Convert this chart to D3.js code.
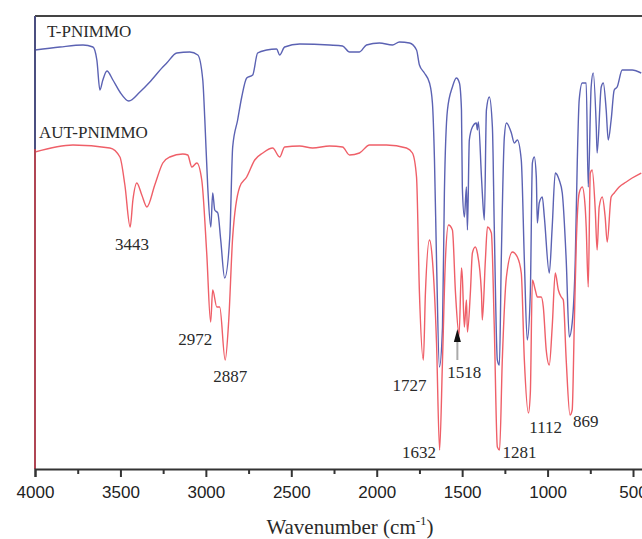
<!DOCTYPE html>
<html lang="en">
<head>
<meta charset="UTF-8">
<title>FTIR spectra</title>
<style>
  * { margin: 0; padding: 0; }
  body { background: #fff; width: 642px; height: 539px; overflow: hidden; }
  svg { display: block; }
  .tick text { font-family: 'Liberation Sans', Arial, sans-serif; font-size: 17px; fill: #222; }
  .serif { font-family: 'Liberation Serif', 'Times New Roman', serif; fill: #2a2a2a; }
</style>
</head>
<body>
<svg width="642" height="539"></svg>
<script src="https://d3js.org/d3.v7.min.js"></script>
<script>
// Wavenumber (cm-1) and relative transmittance
const tWave = [4000, 3854, 3719, 3661, 3638, 3620, 3603, 3579, 3544, 3503, 3451, 3386, 3328, 3252, 3229, 3170, 3094, 3047,
  3018, 3006, 2989, 2971, 2960, 2948, 2930, 2913, 2890, 2860, 2843, 2814, 2790, 2761, 2726, 2697, 2644, 2586, 2568, 2539,
  2451, 2276, 2200, 2159, 2101, 2060, 1984, 1908, 1867, 1808, 1767, 1750, 1721, 1691, 1674, 1662, 1650, 1633, 1615, 1604,
  1586, 1557, 1534, 1516, 1504, 1499, 1487, 1475, 1469, 1458, 1440, 1417, 1411, 1405, 1387, 1382, 1370, 1358, 1341, 1323,
  1312, 1294, 1282, 1271, 1253, 1241, 1212, 1195, 1177, 1154, 1136, 1119, 1101, 1089, 1078, 1066, 1060, 1049, 1031, 1019,
  990, 973, 955, 932, 914, 891, 873, 856, 838, 826, 815, 797, 774, 762, 745, 733, 715, 710, 686, 674, 657, 645, 628, 610,
  593, 563, 505, 452];
const tValue = [419, 422, 424, 422, 409, 379, 389, 398, 389, 377, 368, 377, 387, 402, 406, 416, 417, 414,
  389, 349, 282, 242, 276, 259, 256, 229, 191, 232, 322, 349, 372, 391, 394, 416, 419, 420, 414, 422,
  425, 424, 423, 417, 417, 424, 426, 424, 427, 426, 419, 404, 396, 386, 366, 309, 209, 102, 142, 276,
  359, 382, 391, 386, 359, 282, 252, 282, 239, 329, 342, 346, 339, 347, 292, 276, 249, 359, 372, 342,
  242, 109, 104, 209, 332, 346, 336, 326, 329, 309, 209, 129, 176, 306, 312, 292, 246, 266, 272, 252,
  196, 242, 296, 289, 276, 209, 132, 146, 209, 309, 369, 386, 386, 282, 382, 396, 342, 316, 382, 386, 359, 329, 349, 379,
  382, 399, 399, 396];

const autWave = [4000, 3778, 3562, 3503, 3474, 3443, 3427, 3404, 3375, 3345, 3299, 3252, 3211, 3135, 3106, 3082, 3053,
  3024, 2995, 2972, 2960, 2936, 2919, 2887, 2866, 2843, 2802, 2761, 2714, 2667, 2609, 2568, 2539, 2451, 2375, 2276, 2200,
  2159, 2101, 2042, 1943, 1826, 1791, 1767, 1750, 1727, 1715, 1691, 1674, 1650, 1632, 1615, 1598, 1580, 1557, 1539, 1518,
  1504, 1499, 1487, 1475, 1469, 1452, 1440, 1423, 1411, 1387, 1382, 1364, 1352, 1329, 1312, 1294, 1281, 1265, 1241, 1206,
  1177, 1154, 1136, 1112, 1101, 1089, 1072, 1060, 1037, 1025, 1008, 990, 973, 955, 937, 920, 908, 891, 869, 856, 844, 832,
  815, 797, 780, 774, 762, 750, 739, 721, 710, 698, 680, 663, 651, 628, 610, 581, 540, 505, 452];
const autValue = [317, 324, 321, 312, 284, 242, 269, 286, 274, 262, 284, 306, 312, 315, 314, 302, 306,
  289, 216, 147, 179, 162, 162, 109, 149, 232, 282, 292, 309, 316, 321, 312, 322, 323, 321, 323, 322,
  314, 316, 324, 324, 321, 316, 292, 176, 109, 176, 229, 209, 126, 19, 109, 209, 244, 239, 176, 134,
  201, 192, 142, 169, 137, 176, 216, 222, 216, 176, 149, 209, 242, 236, 142, 22, 19, 109, 192, 217,
  212, 196, 109, 56, 76, 189, 179, 172, 172, 162, 119, 104, 142, 196, 179, 172, 169, 109, 54, 59, 142, 226,
  276, 282, 262, 242, 182, 296, 299, 259, 219, 262, 272, 252, 227, 272, 276, 282, 287, 291, 296];

const majorTicks = [4000, 3500, 3000, 2500, 2000, 1500, 1000, 500];
const minorTicks = [3750, 3250, 2750, 2250, 1750, 1250, 750];

// peak labels: text, wavenumber of label centre, label baseline level
const peakText = ['3443', '2972', '2887', '1727', '1518', '1632', '1281', '1112', '869'];
const peakWave = [3433, 3062, 2857, 1808, 1487, 1753, 1165, 1011, 777];
const peakLevel = [219, 124, 87, 78, 91, 11, 11, 36, 42];

const seriesNames = ['T-PNIMMO', 'AUT-PNIMMO'];

const svg = d3.select('svg');
const x = d3.scaleLinear().domain([4000, 400]).range([35, 650.1]);
const y = d3.scaleLinear().domain([0, 453]).range([469, 16]);

const line = d3.line().curve(d3.curveMonotoneX).x(d => x(d[0])).y(d => y(d[1]));

svg.append('path')
  .datum(d3.zip(tWave, tValue))
  .attr('d', line)
  .attr('fill', 'none')
  .attr('stroke', '#5b62b3')
  .attr('stroke-width', 1.4)
  .attr('stroke-linejoin', 'round');

svg.append('path')
  .datum(d3.zip(autWave, autValue))
  .attr('d', line)
  .attr('fill', 'none')
  .attr('stroke', '#ef5f68')
  .attr('stroke-width', 1.4)
  .attr('stroke-linejoin', 'round');

// frame: top line and left line
svg.append('line').attr('x1', 35).attr('x2', 642).attr('y1', 16).attr('y2', 16)
  .attr('stroke', '#444').attr('stroke-width', 2);
svg.append('line').attr('x1', 35).attr('x2', 35).attr('y1', 16).attr('y2', y(320))
  .attr('stroke', '#4b4f80').attr('stroke-width', 2);
svg.append('line').attr('x1', 35).attr('x2', 35).attr('y1', y(320)).attr('y2', 469)
  .attr('stroke', '#b04654').attr('stroke-width', 2);

// x axis
const xAxis = svg.append('g').attr('transform', 'translate(0,469)')
  .call(d3.axisBottom(x).tickValues(majorTicks).tickSize(8).tickPadding(9).tickFormat(d3.format('d')));
xAxis.select('.domain').attr('stroke', '#333').attr('stroke-width', 2);
xAxis.selectAll('.tick line').attr('stroke', '#333').attr('stroke-width', 2);

const minor = svg.append('g').attr('transform', 'translate(0,469)')
  .call(d3.axisBottom(x).tickValues(minorTicks).tickSize(5).tickFormat(''));
minor.select('.domain').remove();
minor.selectAll('.tick line').attr('stroke', '#333').attr('stroke-width', 2);

// axis title
const title = svg.append('text').attr('class', 'serif')
  .attr('x', 350).attr('y', 534).attr('text-anchor', 'middle').attr('font-size', 21);
title.append('tspan').text('Wavenumber (cm');
title.append('tspan').attr('font-size', 13).attr('dy', -9).text('-1');
title.append('tspan').attr('dy', 9).text(')');

// series names
svg.append('text').attr('class', 'serif').attr('font-size', 17)
  .attr('x', x(3930)).attr('y', y(432)).text(seriesNames[0]);
svg.append('text').attr('class', 'serif').attr('font-size', 17)
  .attr('x', x(3977)).attr('y', y(331)).text(seriesNames[1]);

// peak labels
svg.append('g').selectAll('text')
  .data(d3.zip(peakText, peakWave, peakLevel)).join('text')
  .attr('class', 'serif').attr('font-size', 17).attr('text-anchor', 'middle')
  .attr('x', d => x(d[1])).attr('y', d => y(d[2]))
  .text(d => d[0]);

// arrow to the 1518 band
const ax = x(1528);
svg.append('line').attr('x1', ax).attr('x2', ax).attr('y1', y(109)).attr('y2', y(127))
  .attr('stroke', '#aaa').attr('stroke-width', 2);
svg.append('path')
  .attr('d', `M${ax},${y(140)} L${ax - 3.5},${y(127)} L${ax + 3.5},${y(127)} Z`)
  .attr('fill', '#111');
</script>
</body>
</html>
